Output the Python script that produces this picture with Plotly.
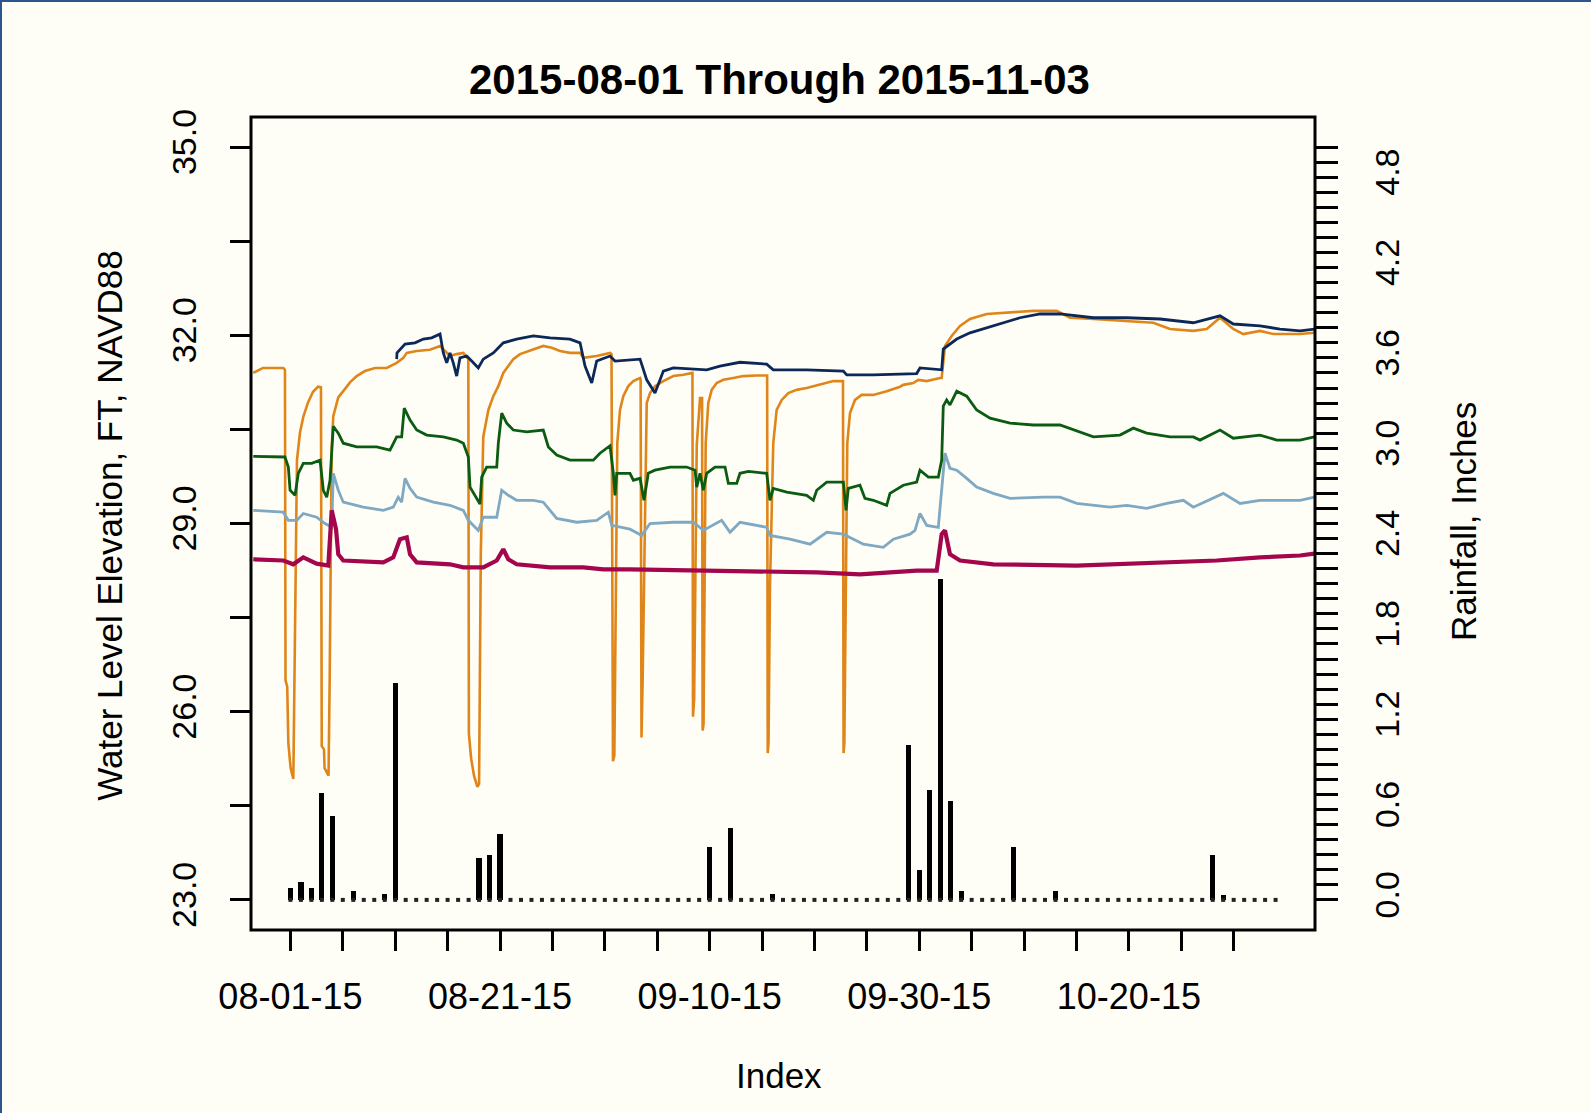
import plotly.graph_objects as go
import pandas as pd

# ---------------- data ----------------
title_text = "2015-08-01 Through 2015-11-03"
start_date = "2015-08-01"
n_days_span = 94  # Aug 1 -> Nov 3

# daily rainfall, inches (Aug 1 .. Nov 3)
rain_in = [
    0.08, 0.12, 0.08, 0.71, 0.56, 0.00, 0.06, 0.00, 0.00, 0.04,   # d0-9
    1.44, 0.00, 0.00, 0.00, 0.00, 0.00, 0.00, 0.00, 0.28, 0.30,   # d10-19
    0.44, 0.00, 0.00, 0.00, 0.00, 0.00, 0.00, 0.00, 0.00, 0.00,   # d20-29
    0.00, 0.00, 0.00, 0.00, 0.00, 0.00, 0.00, 0.00, 0.00, 0.00,   # d30-39
    0.35, 0.00, 0.48, 0.00, 0.00, 0.00, 0.04, 0.00, 0.00, 0.00,   # d40-49
    0.00, 0.00, 0.00, 0.00, 0.00, 0.00, 0.00, 0.00, 0.00, 1.03,   # d50-59
    0.20, 0.73, 2.13, 0.66, 0.06, 0.00, 0.00, 0.00, 0.00, 0.35,   # d60-69
    0.00, 0.00, 0.00, 0.06, 0.00, 0.00, 0.00, 0.00, 0.00, 0.00,   # d70-79
    0.00, 0.00, 0.00, 0.00, 0.00, 0.00, 0.00, 0.00, 0.30, 0.03,   # d80-89
    0.00, 0.00, 0.00, 0.00, 0.00,                                 # d90-94
]

# water level series: time (days after Aug 1) and elevation (ft NAVD88)
orange_t = [0.2, 1.06, 2.85, 3.0, 3.05, 3.2, 3.3, 3.5, 3.74, 3.8, 3.89, 4.06, 4.33, 4.62, 5.04, 5.48,
            5.92, 6.18, 6.25, 6.45, 6.5, 6.85, 6.95, 7.13, 7.27, 7.71, 8.15, 8.75, 9.34, 10.07, 10.96,
            11.99, 12.87, 13.46, 13.76, 14.64, 15.81, 16.7, 17.14, 17.58, 18.17, 18.76, 19.2, 19.25,
            19.45, 19.7, 20.0, 20.15, 20.3, 20.52, 20.97, 21.41, 21.85, 22.29, 22.73, 23.17, 23.77,
            24.5, 25.24, 25.82, 26.57, 27.3, 28.18, 29.07, 29.36, 30.54, 31.72, 31.85, 31.98, 32.1,
            32.36, 32.6, 32.89, 33.33, 33.78, 34.37, 34.42, 34.5, 34.6, 34.96, 35.25, 35.69, 36.43,
            37.31, 38.19, 39.0, 39.05, 39.15, 39.38, 39.67, 39.85, 39.9, 39.98, 40.17, 40.4, 40.7,
            41.14, 41.73, 42.61, 43.49, 44.68, 45.6, 45.65, 45.72, 45.85, 46.14, 46.44, 46.89, 47.47,
            48.21, 49.09, 50.27, 51.45, 52.3, 52.35, 52.42, 52.55, 52.68, 52.92, 53.36, 53.95, 54.98,
            56.16, 57.34, 57.63, 58.51, 58.95, 59.7, 60.87, 61.02, 61.31, 61.9, 62.64, 63.52, 65.0,
            67.06, 69.11, 71.18, 72.36, 74.42, 77.37, 79.72, 81.19, 83.25, 84.43, 85.61, 86.78, 87.67,
            89.14, 90.32, 92.68, 93.95]
orange_v = [31.40, 31.48, 31.48, 31.45, 26.5, 26.4, 25.5, 25.1, 24.93, 26.0, 27.77, 30.01, 30.45, 30.70,
            30.93, 31.10, 31.18, 31.17, 25.45, 25.40, 25.10, 24.98, 26.5, 30.2, 30.71, 31.01, 31.11,
            31.25, 31.35, 31.43, 31.48, 31.48, 31.56, 31.64, 31.72, 31.75, 31.77, 31.83, 31.75, 31.67,
            31.70, 31.72, 31.62, 25.65, 25.25, 24.98, 24.80, 24.85, 28.5, 30.38, 30.81, 31.03, 31.19,
            31.40, 31.51, 31.62, 31.70, 31.75, 31.80, 31.83, 31.80, 31.75, 31.72, 31.72, 31.64, 31.67,
            31.72, 31.70, 25.21, 25.3, 30.28, 30.81, 31.03, 31.19, 31.27, 31.32, 31.30, 25.59, 26.5,
            30.92, 31.08, 31.19, 31.27, 31.35, 31.37, 31.40, 25.92, 26.2, 30.25, 31.00, 31.00, 25.70,
            25.80, 30.28, 30.92, 31.13, 31.24, 31.29, 31.32, 31.35, 31.36, 31.36, 25.34, 25.5, 28.0,
            30.28, 30.81, 30.97, 31.08, 31.13, 31.16, 31.21, 31.27, 31.27, 25.34, 25.5, 28.0, 30.28,
            30.76, 30.97, 31.05, 31.05, 31.11, 31.18, 31.21, 31.24, 31.29, 31.27, 31.32, 31.32, 31.83,
            31.99, 32.15, 32.26, 32.34, 32.36, 32.39, 32.39, 32.28, 32.26, 32.23, 32.20, 32.10, 32.07,
            32.10, 32.28, 32.10, 32.02, 32.07, 32.02, 32.02, 32.04]

navy_t = [12.87, 12.9, 13.61, 14.49, 15.22, 15.96, 16.7, 16.99, 17.29, 17.58, 17.87, 18.17, 18.46,
          19.06, 19.5, 20.08, 20.52, 21.41, 22.29, 23.47, 24.94, 26.42, 28.18, 29.07, 29.51, 30.1,
          30.54, 31.72, 32.16, 34.37, 34.96, 35.69, 36.43, 37.31, 40.26, 41.43, 43.2, 45.56, 46.14,
          49.09, 52.33, 52.63, 54.98, 58.81, 59.1, 60.87, 61.02, 61.16, 62.35, 63.52, 65.0, 66.46,
          67.94, 69.71, 71.47, 74.42, 77.37, 80.31, 83.25, 85.61, 86.78, 89.14, 90.91, 92.68, 93.95]
navy_v = [31.62, 31.72, 31.86, 31.88, 31.94, 31.96, 32.02, 31.72, 31.56, 31.72, 31.56, 31.35, 31.64,
          31.67, 31.59, 31.48, 31.62, 31.72, 31.88, 31.94, 31.99, 31.96, 31.94, 31.88, 31.51, 31.24,
          31.59, 31.67, 31.59, 31.62, 31.29, 31.08, 31.43, 31.48, 31.45, 31.51, 31.57, 31.54, 31.45,
          31.45, 31.43, 31.37, 31.37, 31.39, 31.48, 31.45, 31.45, 31.78, 31.94, 32.04, 32.12, 32.20,
          32.28, 32.34, 32.34, 32.28, 32.28, 32.26, 32.20, 32.31, 32.18, 32.15, 32.10, 32.07, 32.10]

green_t = [0.2, 2.85, 3.0, 3.3, 3.45, 3.89, 4.18, 4.62, 5.36, 6.1, 6.39, 6.69, 6.98, 7.27, 7.71, 8.15,
           9.34, 11.1, 12.28, 12.87, 13.31, 13.54, 14.05, 14.64, 15.52, 16.99, 18.17, 18.76, 19.2,
           19.35, 20.23, 20.38, 20.82, 21.71, 21.85, 22.15, 22.59, 23.17, 24.36, 25.82, 26.27, 27.01,
           28.18, 30.24, 30.83, 31.72, 32.01, 32.16, 32.31, 33.48, 33.78, 34.37, 34.72, 35.1, 35.69,
           37.02, 38.49, 39.23, 39.38, 39.67, 39.96, 40.26, 40.99, 41.88, 42.17, 42.91, 43.2, 43.94,
           45.56, 45.85, 46.14, 47.33, 49.09, 49.68, 49.98, 50.86, 52.33, 52.57, 52.77, 53.8, 54.24,
           54.98, 56.16, 56.45, 57.63, 58.81, 59.1, 59.84, 60.72, 61.02, 61.16, 61.46, 61.75, 62.35,
           63.23, 64.11, 65.29, 67.06, 69.11, 71.47, 72.65, 74.42, 76.77, 77.95, 79.13, 81.19, 83.25,
           83.84, 85.61, 86.78, 89.14, 90.62, 92.68, 93.95]
green_v = [30.07, 30.07, 30.06, 29.90, 29.53, 29.45, 29.80, 29.96, 29.96, 30.01, 29.53, 29.42, 29.69,
           30.55, 30.44, 30.28, 30.22, 30.22, 30.17, 30.38, 30.38, 30.84, 30.65, 30.49, 30.41, 30.38,
           30.33, 30.28, 30.06, 29.58, 29.31, 29.74, 29.90, 29.90, 30.28, 30.76, 30.60, 30.49, 30.46,
           30.49, 30.22, 30.09, 30.01, 30.01, 30.12, 30.24, 29.80, 29.45, 29.80, 29.80, 29.69, 29.72,
           29.37, 29.80, 29.85, 29.90, 29.90, 29.85, 29.58, 29.80, 29.53, 29.80, 29.90, 29.90, 29.64,
           29.64, 29.80, 29.83, 29.80, 29.37, 29.56, 29.50, 29.45, 29.37, 29.53, 29.66, 29.66, 29.21,
           29.56, 29.61, 29.40, 29.37, 29.29, 29.48, 29.61, 29.66, 29.85, 29.74, 29.74, 30.01, 30.87,
           30.97, 30.89, 31.11, 31.03, 30.81, 30.68, 30.60, 30.57, 30.57, 30.49, 30.38, 30.41, 30.52,
           30.44, 30.38, 30.38, 30.33, 30.49, 30.36, 30.41, 30.33, 30.33, 30.38]

ltblue_t = [0.2, 2.85, 3.3, 4.04, 4.62, 5.8, 6.54, 7.13, 7.27, 7.71, 8.15, 9.92, 11.69, 12.57, 13.01,
            13.31, 13.61, 14.05, 14.64, 16.11, 17.58, 18.76, 19.2, 20.08, 20.52, 21.71, 22.15, 22.73,
            23.47, 24.94, 25.82, 27.01, 28.78, 30.54, 31.57, 31.87, 33.48, 34.52, 35.25, 37.31, 39.08,
            39.96, 41.58, 42.32, 43.2, 45.56, 45.85, 47.62, 49.39, 50.86, 52.33, 54.1, 55.86, 56.75,
            58.22, 58.66, 59.1, 59.7, 60.72, 61.02, 61.31, 61.75, 62.35, 63.23, 64.11, 65.58, 67.06,
            70.0, 71.47, 72.95, 75.89, 77.37, 79.13, 80.9, 82.37, 83.25, 85.9, 87.38, 89.14, 92.68,
            93.95]
ltblue_v = [29.21, 29.18, 29.05, 29.05, 29.16, 29.10, 29.00, 28.94, 29.80, 29.53, 29.34, 29.26, 29.21,
            29.26, 29.42, 29.34, 29.72, 29.56, 29.42, 29.34, 29.29, 29.21, 29.05, 28.89, 29.10, 29.10,
            29.53, 29.45, 29.37, 29.37, 29.34, 29.08, 29.02, 29.05, 29.18, 28.97, 28.91, 28.81, 29.00,
            29.02, 29.02, 28.89, 29.05, 28.86, 29.02, 28.94, 28.81, 28.75, 28.67, 28.86, 28.83, 28.67,
            28.62, 28.75, 28.83, 28.89, 29.16, 28.97, 28.94, 29.48, 30.12, 29.88, 29.85, 29.72, 29.58,
            29.48, 29.40, 29.42, 29.42, 29.32, 29.26, 29.29, 29.24, 29.32, 29.37, 29.26, 29.48, 29.32,
            29.37, 29.37, 29.42]

magenta_t = [0.2, 2.85, 3.74, 4.62, 5.8, 6.83, 7.13, 7.51, 7.71, 8.15, 11.69, 12.57, 13.16, 13.76,
             14.05, 14.64, 17.58, 18.76, 20.52, 21.71, 22.29, 22.73, 23.47, 26.42, 29.36, 31.13, 33.48,
             40.0, 45.0, 50.0, 53.8, 58.81, 60.58, 61.02, 61.31, 61.75, 62.64, 65.58, 72.95, 85.32,
             89.14, 92.68, 93.95]
magenta_v = [28.43, 28.41, 28.35, 28.46, 28.36, 28.33, 29.21, 28.91, 28.51, 28.41, 28.38, 28.46, 28.75,
             28.78, 28.51, 28.38, 28.35, 28.30, 28.30, 28.41, 28.59, 28.43, 28.35, 28.30, 28.30, 28.27,
             28.27, 28.25, 28.24, 28.22, 28.19, 28.25, 28.25, 28.83, 28.89, 28.51, 28.41, 28.35, 28.33,
             28.41, 28.46, 28.49, 28.52]

level_ticks = [23.0, 24.5, 26.0, 27.5, 29.0, 30.5, 32.0, 33.5, 35.0]
level_labels = ["23.0", "", "26.0", "", "29.0", "", "32.0", "", "35.0"]
rain_ticks = [round(i * 0.1, 1) for i in range(51)]
rain_labels = [f"{v:.1f}" if i % 6 == 0 else "" for i, v in enumerate(rain_ticks)]
date_tick_days = list(range(0, 91, 5))

# ---------------- figure ----------------
base = pd.Timestamp(start_date)


def to_dates(days):
    return [base + pd.Timedelta(days=float(d)) for d in days]


BG = "#FFFEF6"
FONT = "Liberation Sans, Arial, sans-serif"

fig = go.Figure()

# water levels: main subplot (x, y); x spans the record exactly
series = [
    (orange_t, orange_v, "#DF861A", 2.6),
    (ltblue_t, ltblue_v, "#7FA8C2", 2.8),
    (green_t, green_v, "#0B5C12", 2.8),
    (navy_t, navy_v, "#0B2858", 2.8),
    (magenta_t, magenta_v, "#A3064D", 4.2),
]
for t, v, c, w in series:
    fig.add_trace(go.Scatter(x=to_dates(t), y=v, mode="lines", xaxis="x", yaxis="y",
                             line=dict(color=c, width=w), hoverinfo="skip"))

# rainfall: overlay subplot (x2, y2) with padded date axis shown at bottom
rain_dates = to_dates(range(len(rain_in)))
fig.add_trace(go.Bar(x=rain_dates, y=rain_in, xaxis="x2", yaxis="y2", width=43e6,
                     marker=dict(color="black", line=dict(width=0))))
fig.add_trace(go.Scatter(x=rain_dates, y=[0] * len(rain_in), mode="markers", xaxis="x2", yaxis="y2",
                         marker=dict(symbol="square", size=4, color="#222222", line=dict(width=0))))

pad = 0.04 * n_days_span
fig.update_layout(
    width=1591, height=1113,
    margin=dict(l=251, r=276, t=117, b=183),
    paper_bgcolor=BG, plot_bgcolor=BG,
    showlegend=False, bargap=0,
    font=dict(family=FONT, color="black", size=35),
    xaxis=dict(type="date", visible=False,
               range=[base, base + pd.Timedelta(days=n_days_span)]),
    xaxis2=dict(type="date", overlaying="x", side="bottom", anchor="y2",
                range=[base - pd.Timedelta(days=pad), base + pd.Timedelta(days=n_days_span + pad)],
                tickvals=to_dates(date_tick_days),
                ticktext=[(base + pd.Timedelta(days=d)).strftime("%m-%d-%y") if d % 20 == 0 else ""
                          for d in date_tick_days],
                ticks="outside", ticklen=20, tickwidth=2.5, tickcolor="black",
                showgrid=False, zeroline=False, showline=False,
                tickfont=dict(size=36), ticklabelstandoff=15),
    yaxis=dict(range=[22.52, 35.48], tickvals=level_ticks, ticktext=level_labels,
               tickangle=-90, ticks="outside", ticklen=20, tickwidth=3, tickcolor="black",
               showgrid=False, zeroline=False, showline=False, tickfont=dict(size=34),
               ticklabelstandoff=20),
    yaxis2=dict(range=[-0.2, 5.2], overlaying="y", side="right", anchor="x2",
                tickvals=rain_ticks, ticktext=rain_labels, tickangle=-90,
                ticks="outside", ticklen=22, tickwidth=3, tickcolor="black",
                showgrid=False, zeroline=False, showline=False, tickfont=dict(size=34),
                ticklabelstandoff=20),
)

# plot frame
fig.add_shape(type="rect", xref="paper", yref="paper", x0=0, x1=1, y0=0, y1=1,
              line=dict(color="black", width=3), fillcolor="rgba(0,0,0,0)", layer="above")
# screenshot border (top and left)
fig.add_shape(type="line", xref="paper", yref="paper", x0=-251 / 1064, x1=1340 / 1064,
              y0=(930 - 1) / 813, y1=(930 - 1) / 813, line=dict(color="#2A5590", width=2))
fig.add_shape(type="line", xref="paper", yref="paper", x0=-250 / 1064, x1=-250 / 1064,
              y0=-183 / 813, y1=930 / 813, line=dict(color="#2A5590", width=2))

# titles
fig.add_annotation(text=f"<b>{title_text}</b>", xref="paper", yref="paper", x=0.497, y=1.0467,
                   showarrow=False, font=dict(size=42), xanchor="center", yanchor="middle")
fig.add_annotation(text="Water Level Elevation, FT, NAVD88", xref="paper", yref="paper",
                   x=-0.1338, y=0.498, textangle=-90, showarrow=False, font=dict(size=35),
                   xanchor="center", yanchor="middle")
fig.add_annotation(text="Rainfall, Inches", xref="paper", yref="paper", x=1.139, y=0.503,
                   textangle=-90, showarrow=False, font=dict(size=35),
                   xanchor="center", yanchor="middle")
fig.add_annotation(text="Index", xref="paper", yref="paper", x=0.496, y=-0.179,
                   showarrow=False, font=dict(size=35), xanchor="center", yanchor="middle")

fig.write_html("out.html")
